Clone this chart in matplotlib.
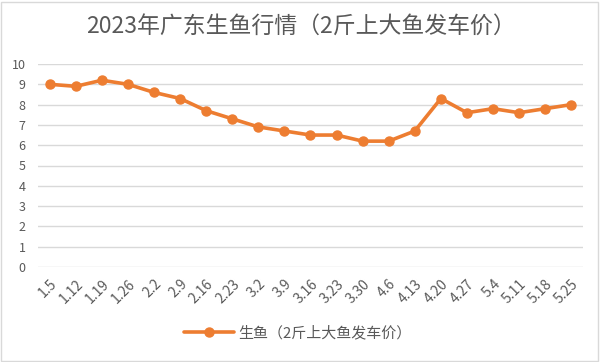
import matplotlib
matplotlib.use("Agg")
import matplotlib.pyplot as plt
from matplotlib.patches import Rectangle

plt.rcParams['font.family'] = ['Noto Sans CJK SC', 'DejaVu Sans']

# 2023 Guangdong snakehead prices
dates = ["1.5", "1.12", "1.19", "1.26", "2.2", "2.9", "2.16", "2.23", "3.2", "3.9",
         "3.16", "3.23", "3.30", "4.6", "4.13", "4.20", "4.27", "5.4", "5.11", "5.18", "5.25"]
prices = [9.0, 8.9, 9.2, 9.0, 8.6, 8.3, 7.7, 7.3, 6.9, 6.7,
          6.5, 6.5, 6.2, 6.2, 6.7, 8.3, 7.6, 7.8, 7.6, 7.8, 8.0]

orange = "#ED7D31"
text_col = "#595959"

fig = plt.figure(figsize=(6.02, 3.62), dpi=100)
ax = fig.add_axes([38/602, 1 - 267/362, (583 - 38)/602, (267 - 64)/362])

x = list(range(len(dates)))
ax.plot(x, prices, color=orange, linewidth=2.6, marker="o", markersize=6.5,
        label="生鱼（2斤上大鱼发车价）", solid_capstyle="round")

ax.set_xlim(-0.45, len(dates) - 0.55)
ax.set_ylim(0, 10)
ax.set_yticks(range(0, 11))
ax.set_xticks(x)
ax.set_xticklabels(dates, rotation=45, ha="right", rotation_mode="anchor")
ax.tick_params(axis="both", length=0, labelsize=9, labelcolor=text_col)
ax.tick_params(axis="x", pad=7, labelsize=10)
ax.tick_params(axis="y", pad=9)
ax.grid(axis="y", color="#D9D9D9", linewidth=1)
ax.set_axisbelow(True)
for s in ax.spines.values():
    s.set_visible(False)

fig.text(0.5, 1 - 26/362, "2023年广东生鱼行情（2斤上大鱼发车价）", ha="center", va="center",
         fontsize=16.5, color=text_col)

fig.legend(loc="center", bbox_to_anchor=(0.495, 1 - 333/362), frameon=False,
           fontsize=10.8, labelcolor=text_col, handlelength=3.3, handletextpad=0.3)

# chart border
fig.add_artist(Rectangle((1/602, 1/362), 597/602, 359/362, transform=fig.transFigure,
                         fill=False, edgecolor="#D9D9D9", linewidth=1))

fig.savefig("out.png", dpi=100)
